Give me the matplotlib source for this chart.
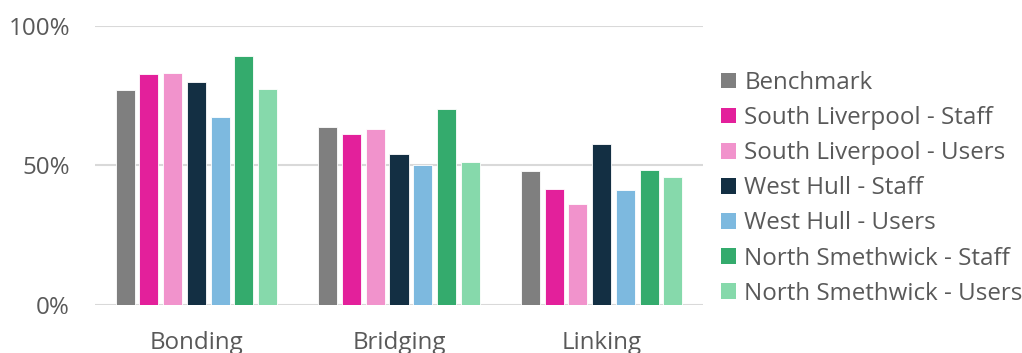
import numpy as np
import matplotlib.pyplot as plt
from matplotlib.patches import Patch

plt.rcParams['font.family'] = ['Open Sans', 'DejaVu Sans']

# social capital scores by area and respondent group
categories = ["Bonding", "Bridging", "Linking"]
series = [
    "Benchmark",
    "South Liverpool - Staff",
    "South Liverpool - Users",
    "West Hull - Staff",
    "West Hull - Users",
    "North Smethwick - Staff",
    "North Smethwick - Users",
]
benchmark = [76.9, 63.8, 48.1]
sl_staff = [82.8, 61.2, 41.5]
sl_users = [83.2, 63.0, 36.0]
wh_staff = [79.8, 53.9, 57.6]
wh_users = [67.2, 50.1, 41.3]
ns_staff = [89.3, 70.2, 48.3]
ns_users = [77.3, 51.2, 45.7]
values = [benchmark, sl_staff, sl_users, wh_staff, wh_users, ns_staff, ns_users]

colors = ["#7f7f7f", "#e3209b", "#f193cc", "#132f43",
          "#7db9df", "#34ab6d", "#86d9ab"]
text_color = "#595959"
grid_color = "#d9d9d9"
fs = 17.4

W, H = 1022, 353
fig = plt.figure(figsize=(W / 100, H / 100), dpi=100)
ax = fig.add_axes([95 / W, (H - 305) / H, 608 / W, 279.3 / H])

x = np.arange(len(categories))
pitch = 0.117
width = 0.094
for i, (vals, c) in enumerate(zip(values, colors)):
    offs = (i - 3) * pitch
    ax.bar(x + offs, vals, width, color=c, edgecolor="white", linewidth=0.6, zorder=3)

ax.set_xlim(-0.5, 2.5)
ax.set_ylim(0, 100)
ax.set_yticks([0, 50, 100])
ax.set_yticklabels(["0%", "50%", "100%"])
ax.set_xticks(x)
ax.set_xticklabels(categories)
ax.yaxis.grid(True, color=grid_color, linewidth=1.5, zorder=0)
ax.set_axisbelow(True)
for s in ax.spines.values():
    s.set_visible(False)
ax.tick_params(axis="both", length=0, colors=text_color, labelsize=fs)
ax.tick_params(axis="y", pad=18)
ax.tick_params(axis="x", pad=19)

handles = [Patch(facecolor=c, edgecolor="none") for c in colors]
fig.legend(handles, series, loc="upper left", bbox_to_anchor=(721 / W, 1 - 71 / H),
           frameon=False, fontsize=fs, labelcolor=text_color,
           handlelength=0.62, handleheight=0.62, handletextpad=0.35,
           labelspacing=0.46, borderaxespad=0, borderpad=0)

fig.savefig("out.png", dpi=100)
